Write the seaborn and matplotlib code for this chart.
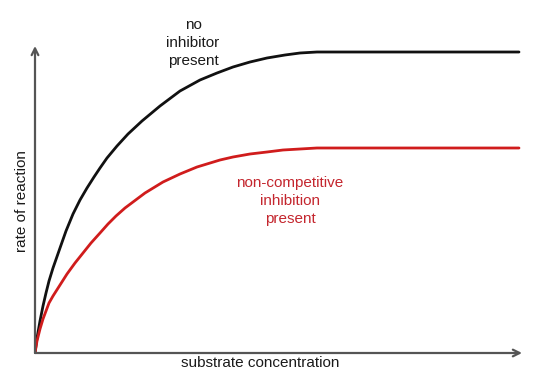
import matplotlib
matplotlib.use("Agg")
import matplotlib.pyplot as plt
import seaborn as sns
import pandas as pd

# Curves (arbitrary units: substrate concentration vs rate)
no_inhib_x = [0, 2, 5, 8, 11, 14, 18, 25, 31, 38, 45, 52, 59, 65, 72, 82, 93, 107, 125, 145, 165,
              182, 198, 215, 232, 250, 265, 282, 298, 484]
no_inhib_y = [0, 15, 32, 47, 60, 72, 85, 105, 122, 139, 153, 165, 176, 185, 195, 207, 219, 232, 247, 262, 273,
              280, 286, 291, 295, 298, 300, 301, 301, 301]

non_comp_x = [0, 2, 5, 8, 11, 14, 18, 25, 32, 40, 48, 56, 65, 73, 81, 90, 98, 110, 128, 145, 162,
              185, 198, 215, 232, 248, 265, 282, 298, 484]
non_comp_y = [0, 12, 24, 34, 42, 50, 57, 68, 79, 90, 100, 110, 120, 129, 137, 145, 151, 160, 171, 179, 186,
              193, 196, 199, 201, 203, 204, 205, 205, 205]

labels = ["no\ninhibitor\npresent", "non-competitive\ninhibition\npresent"]
xlabel = "substrate concentration"
ylabel = "rate of reaction"

df = pd.concat([
    pd.DataFrame({"x": no_inhib_x, "y": no_inhib_y, "series": "none"}),
    pd.DataFrame({"x": non_comp_x, "y": non_comp_y, "series": "noncomp"}),
])

sns.set_style("white")
plt.rcParams["font.family"] = ["Liberation Sans", "DejaVu Sans"]

W, H = 535, 376
fig = plt.figure(figsize=(W / 100, H / 100), dpi=100)
x0, y0 = 35, 353
x1, y1 = 525, 40
ax = fig.add_axes([x0 / W, (H - y0) / H, (x1 - x0) / W, (y0 - y1) / H])

sns.lineplot(data=df, x="x", y="y", hue="series", palette={"none": "#111111", "noncomp": "#d01c1c"},
             linewidth=2.0, legend=False, ax=ax, sort=False, estimator=None)
for ln in ax.lines:
    ln.set_solid_joinstyle("round")
    ln.set_solid_capstyle("round")

ax.set_xlim(0, x1 - x0)
ax.set_ylim(0, y0 - y1)
for s in ax.spines.values():
    s.set_visible(False)
ax.set_xticks([])
ax.set_yticks([])
ax.set_xlabel("")
ax.set_ylabel("")

axis_col = "#555555"
ax.annotate("", xy=(522 - x0, 0), xytext=(0, 0), xycoords="data",
            arrowprops=dict(arrowstyle="->", color=axis_col, lw=1.6, shrinkA=0, shrinkB=0,
                            mutation_scale=12), annotation_clip=False)
ax.annotate("", xy=(0, y0 - 46), xytext=(0, 0), xycoords="data",
            arrowprops=dict(arrowstyle="->", color=axis_col, lw=1.6, shrinkA=0, shrinkB=0,
                            mutation_scale=12), annotation_clip=False)

def px(xp, yp):
    return xp / W, 1 - yp / H

fig.text(*px(193, 43), labels[0], ha="center", va="center", fontsize=11,
         color="#1a1a1a", linespacing=1.4)
fig.text(*px(290, 201), labels[1], ha="center", va="center", fontsize=11,
         color="#c4262e", linespacing=1.4)
fig.text(*px(260, 363), xlabel, ha="center", va="center", fontsize=11, color="#1a1a1a")
fig.text(*px(22, 201), ylabel, ha="center", va="center", fontsize=11, color="#1a1a1a",
         rotation=90)

fig.savefig("out.png", dpi=100)
